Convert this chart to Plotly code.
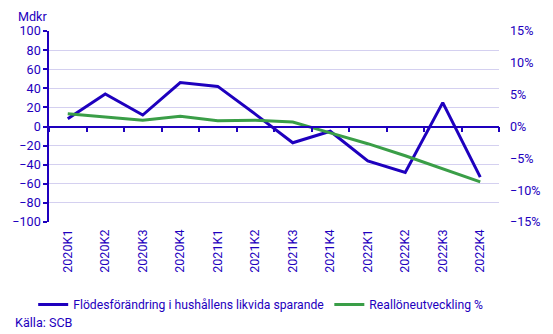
import plotly.graph_objects as go

categories = ["2020K1", "2020K2", "2020K3", "2020K4", "2021K1", "2021K2",
              "2021K3", "2021K4", "2022K1", "2022K2", "2022K3", "2022K4"]
flode = [8, 34, 12, 46, 42, 13, -17, -5, -36, -48, 25, -53]
realloner = [2.0, 1.5, 1.0, 1.6, 0.9, 1.0, 0.7, -1.0, -2.7, -4.6, -6.7, -8.7]

BLUE = "#1e00be"
GREEN = "#3a9e47"
GRID = "#d4d0f0"
FONT = "Roboto"
FS = 12.6

L, R, T, B = 46, 48, 31, 112
W, H = 553, 334
PW, PH = W - L - R, H - T - B


def px_x(px):
    return (px - L) / PW


def px_y(py):
    return (H - B - py) / PH


fig = go.Figure()
fig.add_trace(go.Scatter(x=categories, y=flode, mode="lines",
                         name="Flödesförändring i hushållens likvida sparande",
                         line=dict(color=BLUE, width=3), yaxis="y"))
fig.add_trace(go.Scatter(x=categories, y=realloner, mode="lines",
                         name="Reallöneutveckling %",
                         line=dict(color=GREEN, width=3), yaxis="y2"))
# invisible trace to activate xaxis2 (zero line with ticks)
fig.add_trace(go.Scatter(x=[0], y=[0], xaxis="x2", yaxis="y", mode="markers",
                         marker=dict(opacity=0), showlegend=False,
                         hoverinfo="skip"))

fig.update_layout(
    width=W, height=H,
    margin=dict(l=L, r=R, t=T, b=B),
    paper_bgcolor="white", plot_bgcolor="white",
    font=dict(family=FONT, size=FS, color=BLUE),
    showlegend=True,
    legend=dict(orientation="h", xref="container", yref="container",
                x=0.06, y=1 - 290 / 334, xanchor="left", yanchor="top",
                font=dict(size=12.2, color=BLUE),
                bgcolor="rgba(0,0,0,0)"),
    xaxis=dict(type="category", range=[-0.5, 11.5], showgrid=False,
               showline=False, ticks="", tickangle=-90,
               ticklabelstandoff=4,
               tickfont=dict(size=FS, color=BLUE), zeroline=False),
    xaxis2=dict(overlaying="x", anchor="free", position=0.5,
                range=[-0.5, 11.5], showgrid=False, showline=True,
                linecolor=BLUE, linewidth=1.5, ticks="outside", ticklen=5,
                tickcolor=BLUE, tickwidth=1.5,
                tickvals=[i + 0.5 for i in range(-1, 12)],
                showticklabels=False, zeroline=False, fixedrange=True),
    yaxis=dict(range=[-100, 100], dtick=20, showgrid=True, gridcolor=GRID,
               gridwidth=1, showline=True, linecolor=BLUE, linewidth=1.5,
               ticks="outside", ticklen=4, tickcolor=BLUE, tickwidth=1.5,
               zeroline=False, tickfont=dict(size=FS, color=BLUE)),
    yaxis2=dict(range=[-15, 15], dtick=5, overlaying="y", side="right",
                showgrid=False, showline=False, ticks="", zeroline=False,
                ticksuffix="%", ticklabelstandoff=10,
                tickfont=dict(size=FS, color=BLUE)),
    annotations=[
        dict(text="Mdkr", xref="paper", yref="paper", x=px_x(12), y=px_y(16),
             xanchor="left", yanchor="middle", showarrow=False,
             font=dict(size=FS, color=BLUE)),
        dict(text="Källa: SCB", xref="paper", yref="paper",
             x=px_x(9), y=px_y(322), xanchor="left", yanchor="middle",
             showarrow=False, font=dict(size=FS, color=BLUE)),
    ],
)

fig.write_html("out.html")
